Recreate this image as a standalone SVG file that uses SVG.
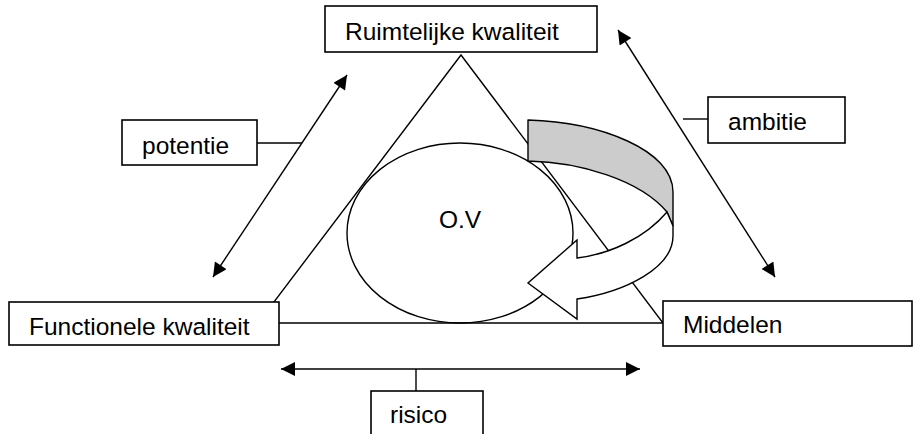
<svg xmlns="http://www.w3.org/2000/svg" width="923" height="434" viewBox="0 0 923 434">
<style>
.ln{fill:none;stroke:#000;stroke-width:1.4}
.bx{fill:#fff;stroke:#000;stroke-width:1.6}
.t{font-family:"Liberation Sans",Arial,sans-serif;font-size:24.5px;fill:#000}
</style>
<defs>
<marker id="ah" viewBox="0 0 10 10" refX="10" refY="5" markerUnits="userSpaceOnUse" markerWidth="18" markerHeight="14" orient="auto-start-reverse">
<path d="M0,0 L10,5 L0,10 z" fill="#000"/>
</marker>
</defs>
<rect width="923" height="434" fill="#fff"/>
<g id="triangle">
<path class="ln" d="M461,55 L258,323 L663,323 Z"/>
</g>
<g id="ov">
<ellipse class="ln" cx="460" cy="233" rx="113" ry="90"/>
<text class="t" x="439" y="228">O.V</text>
</g>
<g id="curved-arrow">
<path d="M528,120 C600,122 673,150 673,192 L673,226 L667,212 C640,180 580,162 528,161 Z" fill="#cccccc" stroke="#000" stroke-width="1.4" stroke-linejoin="round"/>
<path d="M667,212 C645,238 610,254 577,258 L577,240 L528,283 L577,319 L577,299 C625,292 673,268 673,236 L673,226 Z" fill="#fff" stroke="#000" stroke-width="1.4" stroke-linejoin="miter"/>
</g>
<g id="connectors">
<line class="ln" x1="347" y1="75" x2="213" y2="277" marker-start="url(#ah)" marker-end="url(#ah)"/>
<line class="ln" x1="618" y1="30" x2="775" y2="277" marker-start="url(#ah)" marker-end="url(#ah)"/>
<line class="ln" x1="281" y1="369" x2="640" y2="369" marker-start="url(#ah)" marker-end="url(#ah)"/>
<line class="ln" x1="257" y1="143" x2="302" y2="143"/>
<line class="ln" x1="683" y1="119" x2="708" y2="119"/>
<line class="ln" x1="416" y1="369" x2="416" y2="391"/>
</g>
<g id="ruimtelijke-kwaliteit">
<rect class="bx" x="325" y="6" width="272" height="46"/>
<text class="t" x="345" y="40">Ruimtelijke kwaliteit</text>
</g>
<g id="functionele-kwaliteit">
<rect class="bx" x="9" y="302" width="270" height="43"/>
<text class="t" x="29" y="335">Functionele kwaliteit</text>
</g>
<g id="middelen">
<rect class="bx" x="663" y="301" width="249" height="45"/>
<text class="t" x="683" y="333">Middelen</text>
</g>
<g id="potentie">
<rect class="bx" x="122" y="120" width="135" height="45"/>
<text class="t" x="142" y="154">potentie</text>
</g>
<g id="ambitie">
<rect class="bx" x="708" y="97" width="137" height="46"/>
<text class="t" x="728" y="130">ambitie</text>
</g>
<g id="risico">
<rect class="bx" x="371" y="391" width="112" height="50"/>
<text class="t" x="390" y="423">risico</text>
</g>
</svg>
